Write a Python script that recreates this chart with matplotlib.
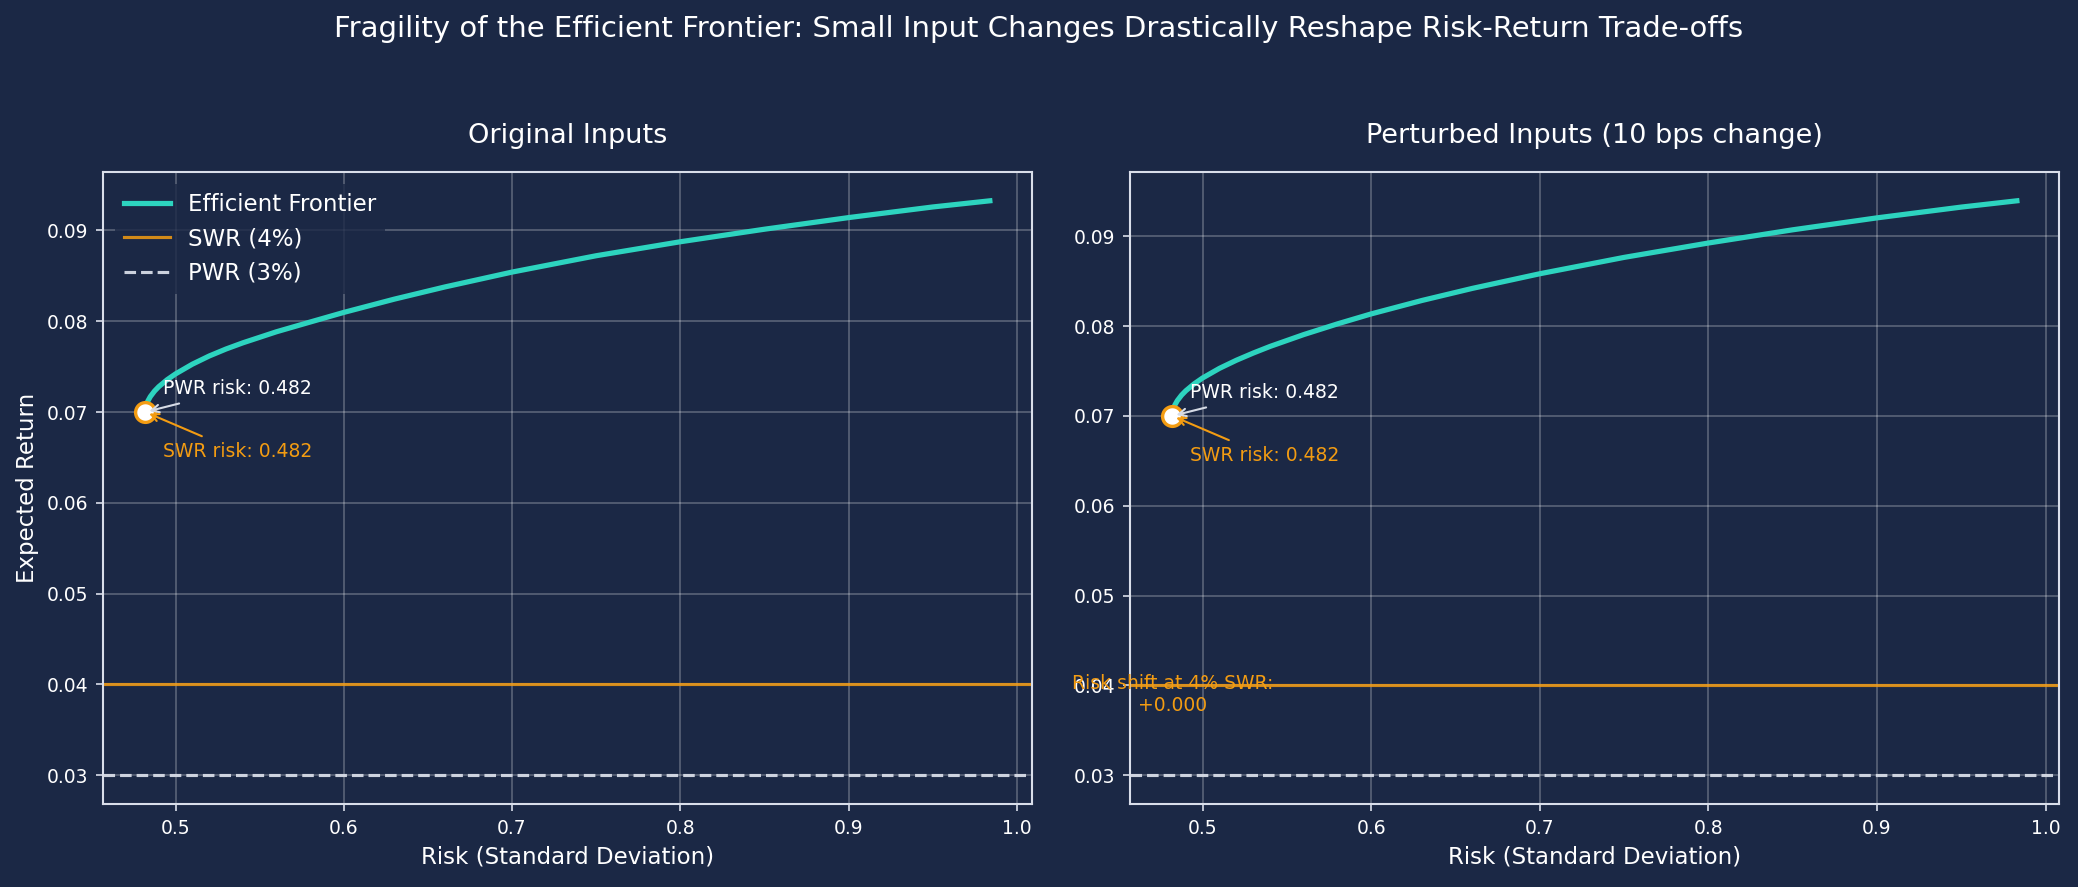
import matplotlib
matplotlib.use("Agg")
import matplotlib.pyplot as plt

# ---- data ----
risk_orig = [0.482, 0.4825, 0.4835, 0.485, 0.4875, 0.490, 0.495, 0.500, 0.510, 0.520,
             0.530, 0.540, 0.560, 0.580, 0.600, 0.630, 0.660, 0.700, 0.750, 0.800,
             0.850, 0.900, 0.950, 0.984]
ret_orig = [0.07000, 0.07069, 0.07120, 0.07170, 0.07231, 0.07279, 0.07356, 0.07420,
            0.07527, 0.07617, 0.07694, 0.07762, 0.07884, 0.07991, 0.08097, 0.08243,
            0.08377, 0.08541, 0.08721, 0.08875, 0.09013, 0.09141, 0.09258, 0.09326]

risk_pert = [0.482, 0.4825, 0.4835, 0.485, 0.4875, 0.490, 0.495, 0.500, 0.510, 0.520,
             0.530, 0.540, 0.560, 0.580, 0.600, 0.630, 0.660, 0.700, 0.750, 0.800,
             0.850, 0.900, 0.950, 0.983]
ret_pert = [0.07000, 0.07070, 0.07121, 0.07171, 0.07232, 0.07280, 0.07358, 0.07423,
            0.07530, 0.07620, 0.07700, 0.07774, 0.07906, 0.08025, 0.08136, 0.08285,
            0.08420, 0.08583, 0.08765, 0.08925, 0.09072, 0.09205, 0.09325, 0.09395]

swr_rate = 0.04
pwr_rate = 0.03
swr_risk = [0.482, 0.482]
pwr_risk = [0.482, 0.482]
point_ret = [0.070, 0.070]
risk_shift = 0.000

panel_titles = ["Original Inputs", "Perturbed Inputs (10 bps change)"]
suptitle = ("Fragility of the Efficient Frontier: Small Input Changes "
            "Drastically Reshape Risk-Return Trade-offs")

# ---- style ----
BG = "#1b2845"
FRONT = "#2dd4bf"
ORANGE = "#f39c12"
PWRC = "#d6dbe6"
SPINE = "#d9deea"

fig = plt.figure(figsize=(2078 / 150, 887 / 150), dpi=150, facecolor=BG)
axes = fig.subplots(1, 2)
fig.subplots_adjust(left=0.0496, right=0.9909, top=0.806, bottom=0.0936, wspace=0.1055)

frontiers = [(risk_orig, ret_orig), (risk_pert, ret_pert)]

for i, ax in enumerate(axes):
    rk, rt = frontiers[i]
    ax.set_facecolor(BG)
    ax.plot(rk, rt, color=FRONT, lw=2.5, label="Efficient Frontier", zorder=3,
            solid_joinstyle="round")
    ax.axhline(swr_rate, color=ORANGE, lw=1.5, alpha=0.85, label="SWR (4%)", zorder=2)
    ax.axhline(pwr_rate, color=PWRC, lw=1.5, ls="--", alpha=0.95, label="PWR (3%)", zorder=2)
    ax.scatter([swr_risk[i]], [point_ret[i]], s=90, facecolor="white",
               edgecolor=ORANGE, linewidth=1.6, zorder=5)

    ax.annotate(f"PWR risk: {pwr_risk[i]:.3f}", xy=(pwr_risk[i], point_ret[i]),
                xytext=(8.5, 8.5), textcoords="offset points", color="white", fontsize=9,
                arrowprops=dict(arrowstyle="->", color=PWRC, lw=1), zorder=6)
    ax.annotate(f"SWR risk: {swr_risk[i]:.3f}", xy=(swr_risk[i], point_ret[i]),
                xytext=(8.5, -21.6), textcoords="offset points", color=ORANGE, fontsize=9,
                arrowprops=dict(arrowstyle="->", color=ORANGE, lw=1), zorder=6)

    ax.grid(True, color="white", alpha=0.28, lw=0.8)
    ax.set_axisbelow(True)
    for s in ax.spines.values():
        s.set_color(SPINE)
        s.set_linewidth(1.0)
    ax.tick_params(colors="white", labelsize=9, color=SPINE)
    ax.set_xlabel("Risk (Standard Deviation)", color="white", fontsize=11)
    ax.set_title(panel_titles[i], color="white", fontsize=13, pad=14)

axes[0].set_ylabel("Expected Return", color="white", fontsize=11)
leg = axes[0].legend(loc="upper left", fontsize=11, facecolor=BG, edgecolor="none",
                     framealpha=0.8)
for t in leg.get_texts():
    t.set_color("white")

axes[1].text(swr_risk[1], swr_rate - 0.001, f"Risk shift at 4% SWR:\n{risk_shift:+.3f}",
             color=ORANGE, fontsize=9, ha="center", va="center", zorder=6)

fig.suptitle(suptitle, color="white", fontsize=14, y=0.967, va="center")

fig.savefig("out.png", dpi=150, facecolor=BG)
